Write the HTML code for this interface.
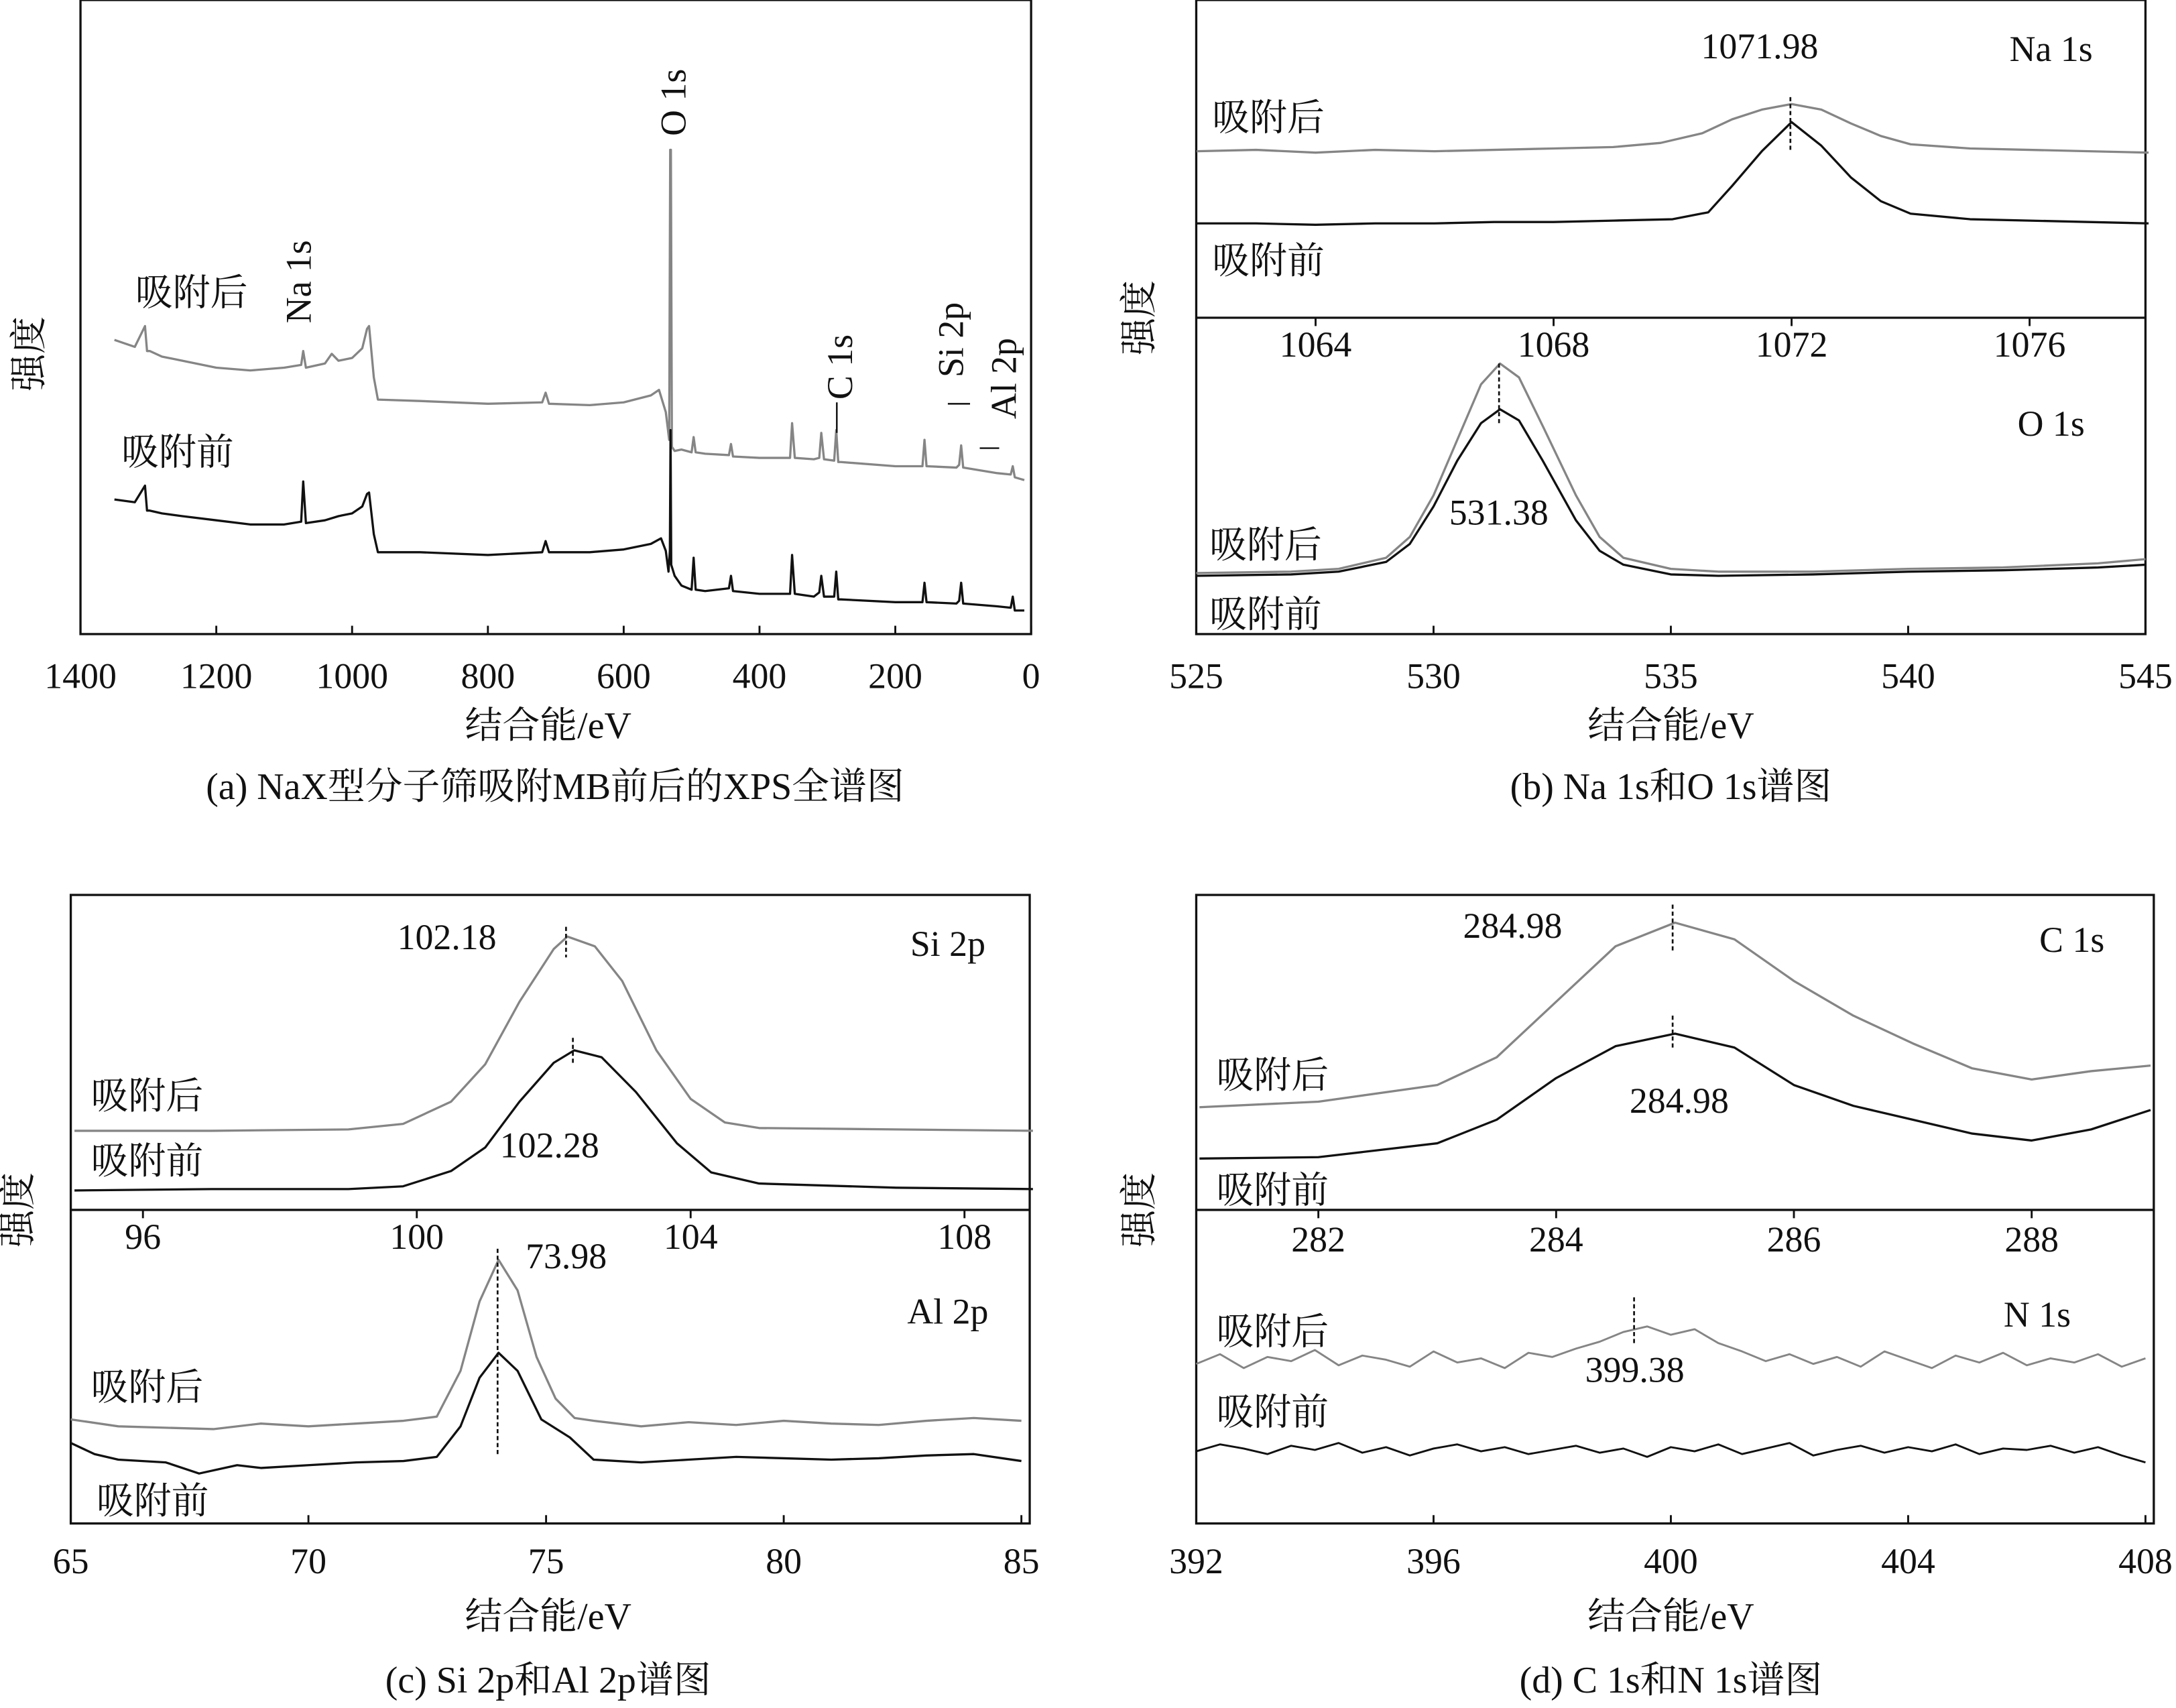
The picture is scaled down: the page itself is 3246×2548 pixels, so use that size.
<!DOCTYPE html>
<html><head><meta charset="utf-8">
<style>
html,body{margin:0;padding:0;background:#fff;}
svg{display:block;}
text{font-family:"Liberation Serif","Noto Serif CJK SC",serif;fill:#111;}
</style></head>
<body>
<svg id="fig" xmlns="http://www.w3.org/2000/svg" width="3246" height="2548" viewBox="0 0 1568 1231" preserveAspectRatio="none">
<g id="g"></g>
</svg>
<script>
// ---------- DATA ----------
const surveyTicks = [1400,1200,1000,800,600,400,200,0];
const surveyBefore = [[1350,97],[1320,95],[1305,107],[1302,89],[1298,89],[1280,87],[1250,85],[1200,82],[1150,79],[1100,79],[1075,81],[1072,110],[1068,80],[1040,82],[1020,85],[1000,87],[985,92],[978,101],[975,102],[968,72],[962,59],[900,59],[800,57],[720,59],[715,67],[710,59],[650,59],[600,61],[560,65],[545,69],[538,60],[534,45],[532,60],[531,147],[530,50],[525,42],[515,35],[500,32],[497,55],[494,32],[480,31],[445,33],[442,42],[439,31],[400,29],[355,29],[352,57],[348,29],[320,27],[312,30],[309,42],[305,27],[290,27],[287,45],[284,25],[280,25],[200,23],[160,23],[157,37],[154,23],[110,22],[106,24],[103,37],[100,22],[50,20],[30,19],[27,27],[24,17],[10,17]];
const surveyAfter = [[1350,212],[1320,207],[1305,222],[1302,204],[1298,204],[1280,200],[1250,197],[1200,192],[1150,190],[1100,192],[1075,194],[1072,204],[1068,192],[1040,195],[1030,202],[1020,197],[1000,199],[985,206],[978,220],[975,222],[968,185],[962,169],[900,168],[800,166],[720,167],[715,174],[710,166],[650,165],[600,167],[560,172],[548,176],[538,160],[533,140],[531.5,349],[530.5,349],[529,135],[525,132],[515,133],[500,131],[497,142],[494,131],[480,130],[445,129],[442,137],[439,128],[400,127],[355,127],[352,152],[348,127],[320,126],[312,127],[309,145],[305,126],[290,125],[287,147],[284,124],[280,124],[200,121],[160,121],[157,140],[154,121],[110,120],[106,122],[103,136],[100,120],[50,116],[30,115],[27,121],[24,113],[10,111]];

const naTicks = [1064,1068,1072,1076];
const naAfter = [[1062,120],[1063,121],[1064,119],[1065,121],[1066,120],[1067,121],[1068,122],[1069,123],[1069.8,126],[1070.5,133],[1071,143],[1071.5,150],[1072,154],[1072.5,150],[1073,140],[1073.5,131],[1074,125],[1075,122],[1076,121],[1077,120],[1078,119]];
const naBefore = [[1062,68],[1063,68],[1064,67],[1065,68],[1066,68],[1067,69],[1068,69],[1069,70],[1070,71],[1070.6,76],[1071,95],[1071.5,120],[1072,141],[1072.5,124],[1073,101],[1073.5,84],[1074,75],[1075,71],[1076,70],[1077,69],[1078,68]];

const oTicks = [525,530,535,540,545];
const oAfter = [[525,44],[527,45],[528,47],[529,55],[529.5,70],[530,100],[530.5,140],[531,180],[531.4,195],[531.8,185],[532.3,150],[533,100],[533.5,70],[534,55],[535,47],[536,45],[538,45],[540,47],[542,48],[544,51],[545,54]];
const oBefore = [[525,42],[527,43],[528,45],[529,52],[529.5,65],[530,92],[530.5,125],[531,152],[531.4,162],[531.8,154],[532.3,125],[533,82],[533.5,60],[534,50],[535,43],[536,42],[538,43],[540,45],[542,46],[544,48],[545,50]];

const siTicks = [96,100,104,108];
const siAfter = [[95,57],[97,57],[99,58],[99.8,62],[100.5,78],[101,105],[101.5,150],[102,188],[102.2,197],[102.6,190],[103,165],[103.5,115],[104,80],[104.5,63],[105,59],[107,58],[109,57]];
const siBefore = [[95,14],[97,15],[99,15],[99.8,17],[100.5,28],[101,45],[101.5,78],[102,106],[102.3,115],[102.7,110],[103.2,85],[103.8,48],[104.3,27],[105,19],[107,16],[109,15]];

const alTicks = [65,70,75,80,85];
const alAfter = [[65,75],[66,70],[68,68],[69,72],[70,70],[71,72],[72,74],[72.7,77],[73.2,110],[73.6,160],[74,190],[74.4,168],[74.8,120],[75.2,90],[75.6,76],[76,74],[77,70],[78,73],[79,71],[80,74],[81,72],[82,71],[83,74],[84,76],[85,74]];
const alBefore = [[65,58],[65.5,50],[66,46],[67,44],[67.7,36],[68.5,42],[69,40],[70,42],[71,44],[72,45],[72.7,48],[73.2,70],[73.6,105],[74,123],[74.4,110],[74.9,75],[75.5,62],[76,46],[77,44],[78,46],[79,48],[80,47],[81,46],[82,47],[83,49],[84,50],[85,45]];

const cTicks = [282,284,286,288];
const cAfter = [[281,74],[282,78],[283,90],[283.5,110],[284,150],[284.5,190],[285,207],[285.5,195],[286,165],[286.5,140],[287,120],[287.5,102],[288,94],[288.5,100],[289,104]];
const cBefore = [[281,37],[282,38],[283,48],[283.5,65],[284,95],[284.5,118],[285,127],[285.5,117],[286,90],[286.5,75],[287,65],[287.5,55],[288,50],[288.5,58],[289,72]];

const nTicks = [392,396,400,404,408];
const nEnergyStart = 392, nEnergyStep = 0.4;
const nAfter = [115,122,112,120,117,125,114,121,118,113,124,116,119,112,123,120,126,131,138,142,136,140,130,124,117,122,115,120,113,124,118,112,121,116,123,114,119,116,122,113,119];
const nBefore = [52,57,54,50,56,53,58,51,55,49,54,57,52,55,50,53,56,51,54,48,55,52,57,50,54,58,49,53,56,51,55,52,57,50,54,53,56,51,55,49,44];

// ---------- DRAWING ----------
const NS="http://www.w3.org/2000/svg";
const G=document.getElementById('g');
function el(tag,attrs,parent){const e=document.createElementNS(NS,tag);for(const k in attrs)e.setAttribute(k,attrs[k]);(parent||G).appendChild(e);return e;}
function txt(x,y,s,size,name,extra){const t=el('text',Object.assign({x:x,y:y,'font-size':size,'text-anchor':'middle'},extra||{}));t.textContent=s;


return t;}
function lin(d0,d1,r0,r1){return v=>r0+(v-d0)*(r1-r0)/(d1-d0);}
function curve(pts,sx,sy,color,name,w){const d=pts.map((p,i)=>(i?'L':'M')+sx(p[0]).toFixed(2)+','+sy(p[1]).toFixed(2)).join('');
const p=el('path',{d:d,fill:'none',stroke:color,'stroke-width':w||1.6,'stroke-linejoin':'round'});

}
function box(x,y,w,h,name){const r=el('rect',{x:x,y:y,width:w,height:h,fill:'none',stroke:'#111','stroke-width':1.6});

}
function ticks(arr,sx,yAxis,labelY,name,dir){arr.forEach(t=>{const x=sx(t);el('line',{x1:x,x2:x,y1:yAxis,y2:yAxis-6*dir,stroke:'#111','stroke-width':1.4});txt(x,labelY,String(t),26,name+'-'+t);});}
function vdash(x,y1,y2,name){const l=el('line',{x1:x,x2:x,y1:y1,y2:y2,stroke:'#111','stroke-width':1.3,'stroke-dasharray':'3,2'});

}
const GRAY='#858585', BLK='#111';

// Panel a
box(58,0,685,457,'survey-plot-frame');
const ax=lin(1400,0,58,743), ay=v=>457-v;
ticks(surveyTicks,ax,457,496,'survey-x-tick',1);
curve(surveyAfter,ax,ay,GRAY,'survey-after-line');
curve(surveyBefore,ax,ay,BLK,'survey-before-line');
txt(395,532,'结合能/eV',27,'survey-x-axis-title');
txt(400,576,'(a) NaX型分子筛吸附MB前后的XPS全谱图',27,'caption-a');
txt(30,255,'强度',27,'survey-y-axis-title',{transform:'rotate(-90 30 255)'});
txt(138,220,'吸附后',27,'survey-label-after');
txt(128,335,'吸附前',27,'survey-label-before');
function rtext(x,y,s,name){txt(x,y,s,26,name,{transform:'rotate(-90 '+x+' '+y+')','text-anchor':'start'});}
rtext(494,98,'O 1s','peak-label-o1s');
rtext(224,233,'Na 1s','peak-label-na1s');
rtext(614,288,'C 1s','peak-label-c1s');
rtext(694,272,'Si 2p','peak-label-si2p');
rtext(732,302,'Al 2p','peak-label-al2p');
el('line',{x1:603,x2:603,y1:290,y2:312,stroke:'#111','stroke-width':1.2});
el('line',{x1:683,x2:699,y1:291,y2:291,stroke:'#111','stroke-width':1.2});
el('line',{x1:706,x2:720,y1:323,y2:323,stroke:'#111','stroke-width':1.2});

// Panel b
box(862,0,684,457,'na-o-plot-frame');
el('line',{x1:862,x2:1546,y1:229,y2:229,stroke:'#111','stroke-width':1.6});
const nx=lin(1064,1072,948,1291), ny=v=>229-v;
ticks(naTicks,nx,229,257,'na-x-tick',-1);
curve(naAfter,nx,ny,GRAY,'na1s-after-line');
curve(naBefore,nx,ny,BLK,'na1s-before-line');
vdash(nx(1071.98),70,110,'na1s-peak-marker');
txt(1268,42,'1071.98',26,'na1s-peak-value');
txt(1478,44,'Na 1s',26,'na1s-title');
txt(914,94,'吸附后',27,'na1s-label-after');
txt(914,197,'吸附前',27,'na1s-label-before');
const ox=lin(525,545,862,1546), oy=v=>457-v;
ticks(oTicks,ox,457,496,'o-x-tick',1);
curve(oAfter,ox,oy,GRAY,'o1s-after-line');
curve(oBefore,ox,oy,BLK,'o1s-before-line');
vdash(ox(531.38),262,305,'o1s-peak-marker');
txt(1080,378,'531.38',26,'o1s-peak-value');
txt(1478,314,'O 1s',26,'o1s-title');
txt(912,402,'吸附后',27,'o1s-label-after');
txt(912,452,'吸附前',27,'o1s-label-before');
txt(1204,532,'结合能/eV',27,'na-o-x-axis-title');
txt(1204,576,'(b) Na 1s和O 1s谱图',27,'caption-b');
txt(830,229,'强度',27,'na-o-y-axis-title',{transform:'rotate(-90 830 229)'});

// Panel c
box(51,645,691,453,'si-al-plot-frame');
el('line',{x1:51,x2:742,y1:872,y2:872,stroke:'#111','stroke-width':1.6});
const sx=lin(96,108,103,695), sy=v=>872-v;
ticks(siTicks,sx,872,900,'si-x-tick',-1);
curve(siAfter,sx,sy,GRAY,'si2p-after-line');
curve(siBefore,sx,sy,BLK,'si2p-before-line');
vdash(sx(102.18),668,690,'si2p-after-peak-marker');
vdash(sx(102.28),748,768,'si2p-before-peak-marker');
txt(322,684,'102.18',26,'si2p-after-peak-value');
txt(396,834,'102.28',26,'si2p-before-peak-value');
txt(683,689,'Si 2p',26,'si2p-title');
txt(106,799,'吸附后',27,'si2p-label-after');
txt(106,846,'吸附前',27,'si2p-label-before');
const lx=lin(65,85,51,736), ly=v=>1098-v;
ticks(alTicks,lx,1098,1134,'al-x-tick',1);
curve(alAfter,lx,ly,GRAY,'al2p-after-line');
curve(alBefore,lx,ly,BLK,'al2p-before-line');
vdash(lx(73.98),900,1048,'al2p-peak-marker');
txt(408,914,'73.98',26,'al2p-peak-value');
txt(683,954,'Al 2p',26,'al2p-title');
txt(106,1009,'吸附后',27,'al2p-label-after');
txt(110,1091,'吸附前',27,'al2p-label-before');
txt(395,1174,'结合能/eV',27,'si-al-x-axis-title');
txt(395,1220,'(c) Si 2p和Al 2p谱图',27,'caption-c');
txt(22,872,'强度',27,'si-al-y-axis-title',{transform:'rotate(-90 22 872)'});

// Panel d
box(862,645,690,453,'c-n-plot-frame');
el('line',{x1:862,x2:1552,y1:872,y2:872,stroke:'#111','stroke-width':1.6});
const cx=lin(282,288,950,1464), cy=v=>872-v;
ticks(cTicks,cx,872,902,'c-x-tick',-1);
curve(cAfter,cx,cy,GRAY,'c1s-after-line');
curve(cBefore,cx,cy,BLK,'c1s-before-line');
vdash(cx(284.98),652,686,'c1s-after-peak-marker');
vdash(cx(284.98),732,756,'c1s-before-peak-marker');
txt(1090,676,'284.98',26,'c1s-after-peak-value');
txt(1210,802,'284.98',26,'c1s-before-peak-value');
txt(1493,686,'C 1s',26,'c1s-title');
txt(917,784,'吸附后',27,'c1s-label-after');
txt(917,867,'吸附前',27,'c1s-label-before');
const qx=lin(392,408,862,1546), qy=v=>1098-v;
ticks(nTicks,qx,1098,1134,'n-x-tick',1);
curve(nAfter.map((v,i)=>[nEnergyStart+i*nEnergyStep,v]),qx,qy,GRAY,'n1s-after-line',1.4);
curve(nBefore.map((v,i)=>[nEnergyStart+i*nEnergyStep,v]),qx,qy,BLK,'n1s-before-line',1.4);
vdash(qx(399.38),935,968,'n1s-peak-marker');
txt(1178,996,'399.38',26,'n1s-peak-value');
txt(1468,956,'N 1s',26,'n1s-title');
txt(917,969,'吸附后',27,'n1s-label-after');
txt(917,1027,'吸附前',27,'n1s-label-before');
txt(1204,1174,'结合能/eV',27,'c-n-x-axis-title');
txt(1204,1220,'(d) C 1s和N 1s谱图',27,'caption-d');
txt(830,872,'强度',27,'c-n-y-axis-title',{transform:'rotate(-90 830 872)'});
</script>
</body></html>
